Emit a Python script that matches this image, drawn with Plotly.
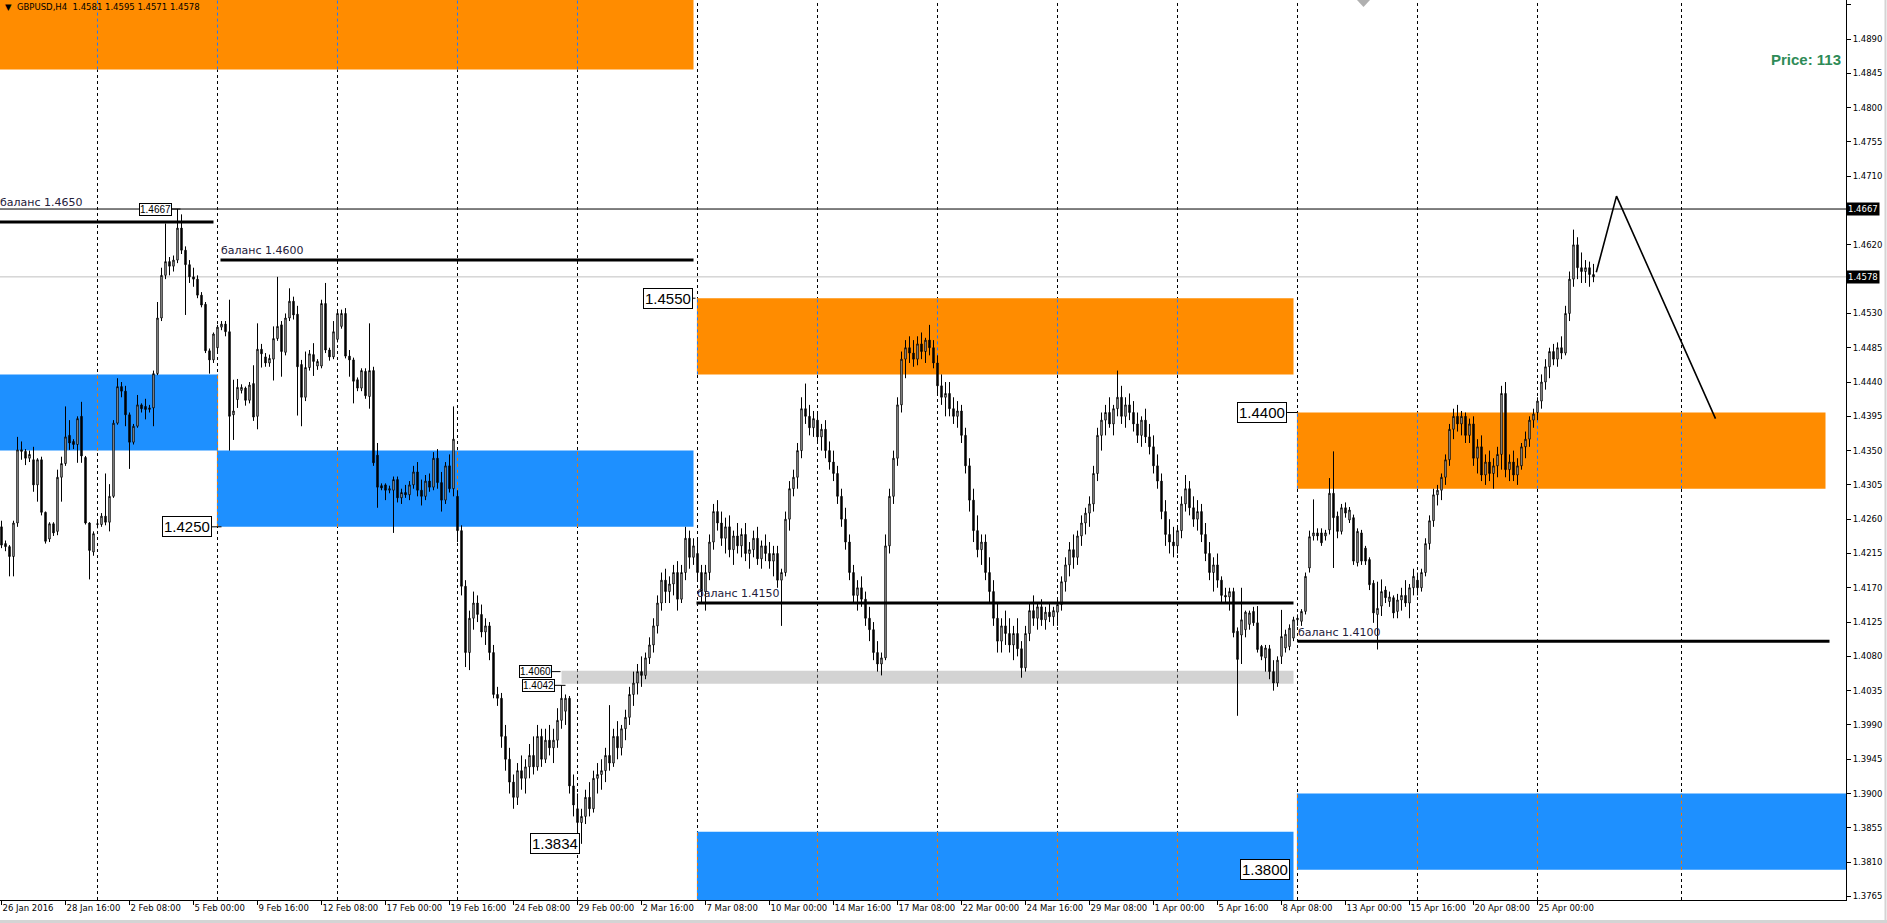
import plotly.graph_objects as go

# ---------------- DATA (prices in 1/10000, H4 bars from 26 Jan 2016 00:00) ----------------
opens = [
    14250,14228,14224,14211,14255,14351, 14349,14340,14338,14305,14338,14269,
    14234,14254,14244,14315,14333,14370, 14362,14358,14395,14341,14255,14217,
    14253,14253,14264,14256,14290,14386, 14434,14428,14397,14361,14382,14410,
    14408,14404,14406,14451,14524,14580, 14598,14592,14600,14642,14613,14594,
    14578,14575,14554,14542,14481,14469, 14485,14512,14516,14506,14397,14417,
    14429,14432,14416,14438,14395,14483, 14473,14465,14470,14497,14515,14479,
    14524,14546,14529,14463,14420,14459, 14476,14461,14461,14543,14482,14473,
    14496,14513,14530,14474,14469,14443, 14432,14454,14421,14455,14344,14304,
    14305,14298,14298,14312,14288,14295, 14292,14305,14322,14298,14290,14310,
    14302,14340,14308,14285,14330,14300, 14290,14245,14172,14085,14130,14150,
    14135,14112,14120,14085,14030,14025, 13975,13945,13915,13895,13930,13920,
    13935,13950,13935,13975,13945,13970, 13960,13970,13996,14008,14025,13910,
    13880,13862,13870,13895,13880,13920, 13925,13930,13950,13940,13975,13960,
    13985,14000,14030,14045,14060,14055, 14078,14095,14120,14150,14180,14165,
    14175,14190,14155,14190,14235,14210, 14215,14190,14165,14190,14230,14270,
    14255,14235,14250,14220,14238,14225, 14240,14215,14220,14235,14208,14225,
    14215,14205,14215,14180,14190,14260, 14300,14315,14350,14405,14395,14380,
    14390,14368,14378,14350,14335,14320, 14290,14260,14230,14190,14160,14170,
    14155,14130,14115,14085,14070,14078, 14225,14290,14340,14410,14470,14485,
    14478,14470,14490,14480,14495,14485, 14465,14435,14420,14425,14405,14395,
    14402,14370,14330,14285,14245,14220, 14230,14190,14165,14130,14100,14120,
    14110,14095,14110,14090,14065,14110, 14140,14130,14145,14128,14138,14132,
    14138,14148,14178,14200,14220,14210, 14238,14255,14268,14280,14320,14370,
    14390,14400,14385,14405,14420,14395, 14410,14400,14385,14370,14390,14368,
    14355,14330,14310,14270,14240,14230, 14225,14245,14280,14300,14275,14260,
    14270,14240,14215,14190,14200,14180, 14160,14158,14165,14113,14108,14115,
    14122,14139,14124,14093,14078,14090, 14060,14045,14080,14091,14093,14104,
    14128,14126,14139,14196,14238,14242, 14242,14238,14246,14294,14264,14244,
    14275,14259,14262,14203,14242,14222, 14207,14176,14135,14146,14167,14152,
    14157,14139,14154,14160,14150,14170, 14180,14170,14190,14228,14258,14292,
    14298,14315,14338,14378,14395,14385, 14395,14370,14385,14340,14355,14318,
    14335,14320,14330,14345,14425,14325, 14335,14318,14330,14355,14365,14390,
    14400,14415,14440,14460,14480,14470, 14485,14478,14530,14575,14620,14590,
    14585,14590,14581,
]
highs = [
    14258,14232,14226,14258,14368,14362, 14352,14350,14355,14340,14342,14270,
    14256,14256,14325,14342,14408,14390, 14365,14395,14414,14343,14256,14244,
    14258,14268,14320,14306,14390,14445, 14440,14435,14400,14385,14423,14412,
    14418,14410,14455,14545,14590,14648, 14604,14606,14667,14660,14618,14600,
    14590,14580,14558,14545,14484,14505, 14515,14520,14520,14548,14443,14444,
    14437,14434,14440,14462,14517,14490, 14478,14476,14513,14578,14520,14530,
    14563,14552,14540,14469,14480,14482, 14491,14470,14548,14570,14485,14520,
    14535,14535,14537,14482,14472,14446, 14458,14458,14517,14460,14360,14307,
    14307,14304,14316,14316,14300,14305, 14310,14330,14335,14312,14318,14320,
    14348,14352,14322,14335,14345,14408, 14298,14252,14180,14140,14165,14160,
    14148,14130,14125,14095,14040,14032, 13990,13960,13925,13940,13950,13945,
    13965,13975,13990,13985,13985,13990, 13985,14012,14042,14030,14028,13925,
    13900,13880,13905,13915,13930,13940, 13945,13960,14016,13985,13995,13990,
    14010,14040,14060,14070,14080,14085, 14105,14130,14160,14190,14195,14185,
    14200,14205,14200,14250,14245,14235, 14235,14200,14200,14240,14280,14285,
    14270,14262,14265,14245,14255,14248, 14255,14230,14245,14250,14232,14240,
    14230,14225,14225,14195,14270,14310, 14325,14360,14420,14438,14410,14402,
    14398,14385,14390,14362,14350,14330, 14300,14275,14240,14200,14180,14185,
    14165,14145,14125,14100,14085,14240, 14300,14350,14420,14480,14495,14500,
    14495,14500,14505,14498,14515,14495, 14475,14450,14440,14440,14420,14415,
    14410,14380,14340,14300,14265,14240, 14240,14210,14180,14150,14130,14140,
    14130,14120,14130,14100,14120,14150, 14160,14150,14155,14145,14150,14145,
    14155,14185,14210,14230,14240,14245, 14265,14275,14290,14330,14380,14400,
    14410,14420,14410,14455,14435,14420, 14425,14415,14400,14395,14405,14385,
    14370,14345,14320,14285,14260,14250, 14250,14290,14318,14310,14290,14285,
    14280,14255,14230,14210,14215,14185, 14170,14170,14170,14118,14170,14140,
    14140,14145,14146,14095,14095,14095, 14075,14080,14141,14115,14122,14132,
    14135,14142,14190,14245,14286,14248, 14248,14246,14314,14349,14270,14280,
    14282,14276,14266,14248,14246,14225, 14210,14180,14178,14181,14172,14165,
    14160,14162,14170,14180,14175,14195, 14190,14195,14235,14265,14300,14305,
    14320,14345,14385,14405,14410,14402, 14400,14392,14395,14365,14370,14345,
    14350,14340,14355,14435,14440,14345, 14350,14340,14360,14375,14395,14405,
    14420,14450,14470,14485,14490,14492, 14500,14540,14585,14640,14630,14610,
    14600,14598,14595,
]
lows = [
    14222,14218,14185,14185,14250,14338, 14331,14335,14296,14283,14265,14228,
    14230,14238,14239,14283,14330,14351, 14352,14334,14334,14253,14181,14212,
    14248,14250,14252,14244,14288,14384, 14420,14382,14326,14358,14380,14400,
    14391,14400,14382,14449,14520,14575, 14580,14585,14596,14608,14528,14570,
    14565,14550,14538,14478,14451,14465, 14480,14508,14500,14350,14364,14406,
    14425,14409,14412,14389,14378,14459, 14460,14460,14442,14494,14447,14475,
    14520,14522,14396,14382,14415,14455, 14448,14456,14458,14478,14468,14470,
    14492,14510,14471,14447,14412,14428, 14428,14418,14405,14330,14275,14298,
    14285,14294,14242,14282,14280,14288, 14285,14300,14290,14278,14285,14296,
    14298,14300,14270,14280,14295,14290, 14230,14160,14066,14062,14115,14125,
    14105,14095,14075,14025,14015,13960, 13930,13900,13880,13885,13905,13900,
    13920,13925,13930,13935,13940,13950, 13940,13960,13985,13990,13900,13870,
    13850,13834,13860,13870,13875,13900, 13905,13915,13930,13935,13945,13950,
    13970,13990,14015,14030,14040,14050, 14070,14085,14110,14140,14150,14150,
    14160,14140,14150,14180,14195,14200, 14180,14150,14140,14180,14220,14245,
    14225,14215,14210,14200,14215,14210, 14205,14195,14210,14200,14195,14205,
    14195,14185,14170,14120,14185,14245, 14290,14300,14340,14385,14370,14368,
    14360,14350,14340,14325,14310,14280, 14250,14220,14180,14150,14140,14145,
    14120,14100,14075,14060,14055,14075, 14215,14280,14330,14400,14445,14465,
    14460,14462,14470,14465,14475,14458, 14425,14410,14395,14395,14385,14380,
    14360,14320,14270,14230,14210,14200, 14180,14150,14120,14085,14085,14095,
    14085,14075,14080,14052,14060,14100, 14120,14115,14120,14115,14125,14120,
    14120,14140,14165,14185,14195,14200, 14225,14240,14250,14270,14310,14350,
    14370,14380,14370,14395,14385,14380, 14390,14375,14360,14355,14360,14345,
    14320,14300,14260,14225,14215,14210, 14215,14235,14270,14265,14250,14245,
    14230,14205,14180,14165,14170,14150, 14150,14140,14105,14002,14070,14105,
    14115,14120,14085,14075,14060,14050, 14035,14040,14070,14085,14088,14100,
    14120,14120,14135,14190,14232,14232, 14225,14232,14240,14196,14235,14240,
    14262,14255,14200,14198,14200,14200, 14167,14124,14089,14133,14150,14145,
    14130,14130,14140,14145,14130,14160, 14160,14165,14185,14220,14250,14278,
    14285,14305,14330,14365,14375,14370, 14360,14360,14330,14320,14310,14305,
    14310,14300,14315,14325,14315,14310, 14310,14305,14325,14340,14355,14380,
    14390,14405,14430,14445,14462,14460, 14470,14475,14520,14565,14575,14570,
    14570,14565,14571,
]
closes = [
    14226,14224,14211,14255,14351,14349, 14340,14345,14305,14338,14269,14231,
    14254,14242,14315,14333,14368,14360, 14358,14392,14343,14255,14219,14241,
    14254,14264,14256,14290,14386,14434, 14428,14397,14361,14382,14410,14405,
    14404,14406,14451,14524,14580,14598, 14592,14600,14642,14613,14594,14578,
    14575,14554,14541,14481,14469,14503, 14512,14516,14506,14395,14402,14433,
    14433,14416,14436,14394,14483,14477, 14465,14471,14497,14513,14480,14524,
    14546,14528,14460,14420,14459,14477, 14467,14467,14543,14482,14473,14506,
    14530,14530,14474,14469,14441,14432, 14455,14422,14455,14334,14302,14301,
    14298,14300,14312,14288,14295,14292, 14305,14322,14298,14290,14310,14302,
    14340,14308,14285,14330,14300,14365, 14245,14172,14085,14130,14150,14135,
    14112,14120,14085,14030,14025,13975, 13945,13915,13895,13930,13920,13935,
    13950,13935,13975,13945,13970,13960, 13970,13996,14025,14025,13910,13885,
    13862,13870,13895,13880,13920,13925, 13930,13950,13940,13975,13960,13985,
    14000,14030,14045,14060,14055,14078, 14095,14120,14150,14180,14165,14175,
    14190,14155,14190,14235,14210,14225, 14190,14165,14190,14230,14270,14255,
    14235,14250,14220,14238,14225,14240, 14215,14220,14235,14208,14225,14215,
    14205,14215,14180,14190,14260,14300, 14315,14350,14405,14395,14380,14392,
    14368,14378,14350,14335,14320,14290, 14260,14230,14190,14160,14170,14155,
    14130,14115,14085,14070,14078,14225, 14290,14340,14410,14470,14485,14478,
    14470,14490,14480,14495,14485,14465, 14435,14420,14425,14405,14395,14402,
    14370,14330,14285,14245,14220,14230, 14190,14165,14130,14100,14120,14110,
    14095,14110,14090,14065,14110,14140, 14130,14145,14128,14138,14132,14140,
    14148,14178,14200,14220,14210,14238, 14255,14268,14280,14320,14370,14390,
    14400,14385,14405,14420,14395,14410, 14400,14385,14370,14390,14368,14355,
    14330,14310,14270,14240,14230,14225, 14245,14280,14300,14275,14260,14270,
    14240,14215,14190,14200,14180,14160, 14158,14165,14111,14076,14128,14138,
    14137,14124,14089,14080,14091,14060, 14045,14075,14106,14109,14117,14128,
    14130,14139,14185,14237,14242,14238, 14229,14242,14294,14262,14244,14275,
    14268,14272,14205,14244,14205,14205, 14174,14137,14143,14165,14157,14158,
    14137,14154,14160,14150,14170,14185, 14170,14190,14228,14258,14292,14298,
    14315,14338,14378,14395,14385,14395, 14370,14385,14340,14355,14318,14335,
    14320,14330,14345,14425,14325,14335, 14318,14330,14355,14365,14390,14398,
    14415,14440,14460,14480,14470,14485, 14478,14530,14575,14620,14590,14585,
    14590,14581,14578,
]

date_labels = ["26 Jan 2016", "28 Jan 16:00", "2 Feb 08:00", "5 Feb 00:00", "9 Feb 16:00",
               "12 Feb 08:00", "17 Feb 00:00", "19 Feb 16:00", "24 Feb 08:00", "29 Feb 00:00",
               "2 Mar 16:00", "7 Mar 08:00", "10 Mar 00:00", "14 Mar 16:00", "17 Mar 08:00",
               "22 Mar 00:00", "24 Mar 16:00", "29 Mar 08:00", "1 Apr 00:00", "5 Apr 16:00",
               "8 Apr 08:00", "13 Apr 00:00", "15 Apr 16:00", "20 Apr 08:00", "25 Apr 00:00"]
date_label_bars = [0, 16, 32, 48, 64, 80, 96, 112, 128, 144, 160, 176, 192, 208, 224,
                   240, 256, 272, 288, 304, 320, 336, 352, 368, 384]
week_separators = [24, 54, 84, 114, 144, 174, 204, 234, 264, 294, 324, 354, 384, 420]
price_ticks = [1.3765, 1.3810, 1.3855, 1.3900, 1.3945, 1.3990, 1.4035, 1.4080, 1.4125,
               1.4170, 1.4215, 1.4260, 1.4305, 1.4350, 1.4395, 1.4440, 1.4485, 1.4530,
               1.4575, 1.4620, 1.4665, 1.4710, 1.4755, 1.4800, 1.4845, 1.4890, 1.4935]
price_tick_text = ["1.3765", "1.3810", "1.3855", "1.3900", "1.3945", "1.3990", "1.4035",
                   "1.4080", "1.4125", "1.4170", "1.4215", "1.4260", "1.4305", "1.4350",
                   "1.4395", "1.4440", "1.4485", "1.4530", "", "1.4620", "", "1.4710",
                   "1.4755", "1.4800", "1.4845", "1.4890", "1.4935"]  # two are hidden under price tags

# zones: x from/to (bar index), price low/high, colour, colour of separators drawn over them
zone_x0 = [-1, -1, 54, 174, 174, 324, 324, 140]
zone_x1 = [173, 54, 173, 323, 323, 456, 462, 323]
zone_lo = [1.4850, 1.4350, 1.4250, 1.4450, 1.3750, 1.4300, 1.3800, 1.4044]
zone_hi = [1.4960, 1.4450, 1.4350, 1.4550, 1.3850, 1.4400, 1.3900, 1.4061]
zone_col = ["#FF8C00", "#1E90FF", "#1E90FF", "#FF8C00", "#1E90FF", "#FF8C00", "#1E90FF", "#D3D3D3"]
zone_sep_col = ["#1E7BFF", "#F07800", "#F07800", "#1E7BFF", "#F07800", "#1E7BFF", "#F07800", "#3A3A3A"]

# balance lines
bal_price = [1.4650, 1.4600, 1.4150, 1.4100]
bal_x0 = [-1, 54.75, 173.75, 324]
bal_x1 = [53, 173, 323, 457]
bal_text = ["баланс 1.4650", "баланс 1.4600", "баланс 1.4150", "баланс 1.4100"]
bal_text_shift = [19, 10, 10, 9]

# price labels (right edge at bar index, connector to bar index)
big_lbl_text = ["1.4250", "1.4550", "1.4400", "1.3800", "1.3834"]
big_lbl_price = [1.4250, 1.4550, 1.4400, 1.3800, 1.3834]
big_lbl_right = [52.5, 172.8, 321.4, 322.0, 144.5]
big_lbl_conn = [55.0, 173.5, 324.0, 322.0, 144.5]
small_lbl_text = ["1.4667", "1.4060", "1.4042"]
small_lbl_price = [1.4667, 1.4060, 1.4042]
small_lbl_right = [42.5, 137.5, 138.25]
small_lbl_conn = [44.75, 139.75, 141.0]

high_line = 1.4667
bid_line = 1.4578
trend_x = [398.7, 403.75, 428.5]
trend_y = [1.4584, 1.4684, 1.4392]

# ---------------- FIGURE ----------------
W, H = 1887, 923
ML, MR, MT, MB = 0, 41, 0, 23
X_RANGE = [-0.375, 461.125]
Y_RANGE = [1.37603, 1.49413]
PW, PH = W - ML - MR, H - MT - MB

xs = list(range(len(closes)))
sc = 10000.0
fig = go.Figure()
fig.add_trace(go.Candlestick(
    x=xs, open=[v / sc for v in opens], high=[v / sc for v in highs],
    low=[v / sc for v in lows], close=[v / sc for v in closes],
    increasing=dict(line=dict(color="black", width=1), fillcolor="white"),
    decreasing=dict(line=dict(color="black", width=1), fillcolor="black"),
    whiskerwidth=0, hoverinfo="skip", showlegend=False))
fig.add_trace(go.Scatter(x=trend_x, y=trend_y, mode="lines",
                         line=dict(color="black", width=1.6), hoverinfo="skip", showlegend=False))

DASH = "3px,3px"
shapes = []
for x0, x1, lo, hi, c in zip(zone_x0, zone_x1, zone_lo, zone_hi, zone_col):
    shapes.append(dict(type="rect", xref="x", yref="y", x0=x0, x1=x1, y0=lo, y1=hi,
                       fillcolor=c, line=dict(width=0), layer="below"))
for s in week_separators:
    shapes.append(dict(type="line", xref="x", yref="paper", x0=s, x1=s, y0=0, y1=1,
                       line=dict(color="black", width=1, dash=DASH), layer="below"))
# separators seen through the zones in inverted colour
for x0, x1, lo, hi, c, sc_ in zip(zone_x0, zone_x1, zone_lo, zone_hi, zone_col, zone_sep_col):
    for s in week_separators:
        if x0 <= s <= x1:
            top = min(hi, Y_RANGE[1])
            shapes.append(dict(type="line", xref="x", yref="y", x0=s, x1=s, y0=lo, y1=top,
                               line=dict(color=c, width=1.2), layer="below"))
            shapes.append(dict(type="line", xref="x", yref="y", x0=s, x1=s, y0=lo, y1=top,
                               line=dict(color=sc_, width=1, dash=DASH), layer="below"))
shapes.append(dict(type="line", xref="paper", yref="y", x0=0, x1=1, y0=high_line, y1=high_line,
                   line=dict(color="black", width=1)))
shapes.append(dict(type="line", xref="paper", yref="y", x0=0, x1=1, y0=bid_line, y1=bid_line,
                   line=dict(color="#C0C0C0", width=1), layer="below"))
for p, x0, x1 in zip(bal_price, bal_x0, bal_x1):
    shapes.append(dict(type="line", xref="x", yref="y", x0=x0, x1=x1, y0=p, y1=p,
                       line=dict(color="black", width=3)))
for p, xr, xc in zip(big_lbl_price + small_lbl_price, big_lbl_right + small_lbl_right,
                     big_lbl_conn + small_lbl_conn):
    if xc > xr:
        shapes.append(dict(type="line", xref="x", yref="y", x0=xr, x1=xc, y0=p, y1=p,
                           line=dict(color="black", width=1)))
# chart-shift marker at the top
shapes.append(dict(type="path", xref="paper", yref="paper",
                   path="M %.5f,1 L %.5f,1 L %.5f,%.5f Z" % (1357 / PW, 1370 / PW, 1363.5 / PW, 1 - 7 / PH),
                   fillcolor="#B0B0B0", line=dict(width=0)))
# window borders
shapes.append(dict(type="line", xref="paper", yref="paper", x0=(1885.5 - ML) / PW, x1=(1885.5 - ML) / PW,
                   y0=-MB / PH, y1=1, line=dict(color="#D4D4D4", width=2)))
shapes.append(dict(type="line", xref="paper", yref="paper", x0=0, x1=W / PW,
                   y0=-(921.5 - PH) / PH, y1=-(921.5 - PH) / PH, line=dict(color="#D4D4D4", width=3)))

ann = []
for t, p, xr in zip(big_lbl_text, big_lbl_price, big_lbl_right):
    ann.append(dict(x=xr, y=p, xref="x", yref="y", text=t, showarrow=False, xanchor="right",
                    yanchor="middle", bgcolor="white", bordercolor="black", borderwidth=1, borderpad=1,
                    font=dict(family="Liberation Sans, Arial", size=15, color="black")))
for t, p, xr in zip(small_lbl_text, small_lbl_price, small_lbl_right):
    ann.append(dict(x=xr, y=p, xref="x", yref="y", text=t, showarrow=False, xanchor="right",
                    yanchor="middle", bgcolor="white", bordercolor="black", borderwidth=1, borderpad=0,
                    font=dict(family="Liberation Sans, Arial", size=10, color="black")))
for t, p, x0, sh in zip(bal_text, bal_price, bal_x0, bal_text_shift):
    ann.append(dict(x=max(x0, -0.3), y=p, xref="x", yref="y", text=t, showarrow=False, xanchor="left",
                    yanchor="middle", yshift=sh, xshift=-2,
                    font=dict(family="DejaVu Sans", size=11, color="#24203a")))
for p in (high_line, bid_line):
    ann.append(dict(x=1, y=p, xref="paper", yref="y", text="%.4f" % p, showarrow=False,
                    xanchor="left", yanchor="middle", bgcolor="black", borderpad=1,
                    font=dict(family="DejaVu Sans", size=8.5, color="white")))
ann.append(dict(x=3 / PW, y=1 - 7 / PH, xref="paper", yref="paper",
                text="▼  GBPUSD,H4  1.4581 1.4595 1.4571 1.4578", showarrow=False,
                xanchor="left", yanchor="middle",
                font=dict(family="DejaVu Sans", size=8.5, color="black")))
ann.append(dict(x=1843 / PW, y=1 - 59 / PH, xref="paper", yref="paper", text="<b>Price: 113</b>",
                showarrow=False, xanchor="right", yanchor="middle",
                font=dict(family="Liberation Sans, Arial", size=15, color="#2E8B57")))

fig.update_layout(
    width=W, height=H, margin=dict(l=ML, r=MR, t=MT, b=MB, pad=0),
    paper_bgcolor="white", plot_bgcolor="white", showlegend=False, boxgap=0.5,
    shapes=shapes, annotations=ann,
    xaxis=dict(range=X_RANGE, showgrid=False, zeroline=False, showline=True, linecolor="black",
               linewidth=1, ticks="outside", ticklen=4, tickcolor="black", tickangle=0,
               tickvals=date_label_bars, ticktext=date_labels, ticklabelposition="outside right",
               tickfont=dict(family="DejaVu Sans", size=8.5, color="black"),
               rangeslider=dict(visible=False), fixedrange=True),
    yaxis=dict(range=Y_RANGE, side="right", showgrid=False, zeroline=False, showline=True,
               linecolor="black", linewidth=1, ticks="outside", ticklen=4, tickcolor="black",
               tickvals=price_ticks, ticktext=price_tick_text,
               tickfont=dict(family="DejaVu Sans", size=8.5, color="black"), fixedrange=True),
)
fig.write_html("out.html", config={"displayModeBar": False},
               post_script="document.body.style.margin='0px';document.body.style.padding='0px';"
                           "document.body.style.overflow='hidden';")
